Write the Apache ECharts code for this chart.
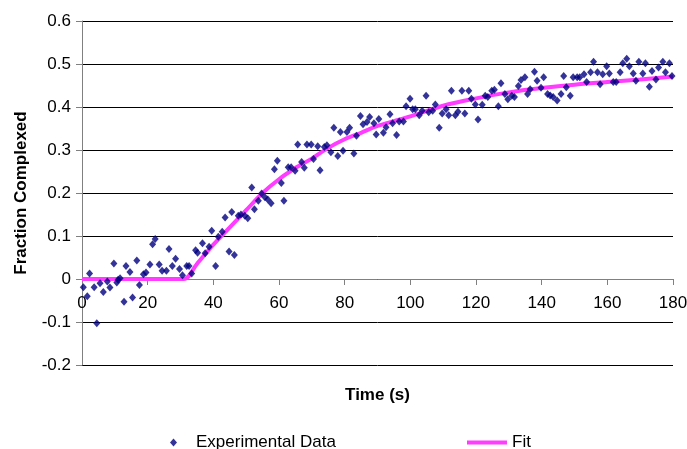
<!DOCTYPE html>
<html>
<head>
<meta charset="utf-8">
<script src="https://cdn.jsdelivr.net/npm/echarts@6/dist/echarts.min.js"></script>
<style>
  html, body { margin: 0; padding: 0; background: #fff; }
  #chart { width: 687px; height: 449px; }
</style>
</head>
<body>
<div id="chart"></div>
<script>
// Measured binding time course (s) and fraction complexed
const expTime = [
  0.4, 1.6, 2.3, 3.7, 4.5, 5.5, 6.5, 7.7, 8.5, 9.7,
  10.6, 11.0, 11.6, 12.8, 13.4, 14.6, 15.4, 16.7, 17.5, 18.7,
  19.5, 20.7, 21.5, 22.3, 23.5, 24.4, 25.7, 26.5, 27.5, 28.5,
  29.7, 30.6, 31.9, 32.6, 33.4, 34.6, 35.2, 36.7, 37.5, 38.7,
  39.5, 40.7, 41.5, 42.7, 43.6, 44.8, 45.6, 46.4, 47.6, 48.4,
  49.6, 50.5, 51.7, 52.5, 53.7, 54.7, 55.7, 56.6, 57.6, 58.6,
  59.5, 60.7, 61.5, 62.8, 63.7, 64.9, 65.7, 66.9, 67.7, 68.5,
  69.8, 70.5, 71.8, 72.5, 73.8, 74.6, 75.8, 76.7, 77.9, 78.7,
  79.5, 80.7, 81.5, 82.8, 83.6, 84.8, 85.6, 86.8, 87.6, 88.9,
  89.6, 90.4, 91.8, 92.6, 93.8, 94.6, 95.8, 96.6, 97.9, 98.7,
  99.9, 100.7, 101.5, 102.7, 103.6, 104.8, 105.6, 106.8, 107.6, 108.8,
  109.7, 110.9, 111.7, 112.5, 113.7, 114.5, 115.7, 116.6, 117.8, 118.6,
  119.8, 120.6, 121.9, 122.8, 123.6, 124.8, 125.6, 126.8, 127.6, 128.8,
  129.7, 130.9, 131.7, 132.9, 133.7, 134.9, 135.7, 136.5, 137.8, 138.6,
  139.8, 140.6, 141.8, 142.6, 143.5, 144.7, 145.9, 146.7, 147.5, 148.7,
  149.6, 150.8, 151.6, 152.9, 153.7, 154.9, 155.8, 157.0, 157.8, 158.6,
  159.8, 160.6, 161.8, 162.7, 163.9, 164.7, 165.9, 166.7, 167.9, 168.7,
  169.6, 170.8, 171.6, 172.8, 173.6, 174.8, 175.6, 176.9, 177.7, 178.9,
  179.7
];
const expValue = [
  -0.019, -0.040, 0.013, -0.019, -0.103, -0.010, -0.030, -0.006, -0.020, 0.036,
  -0.008, -0.002, 0.002, -0.053, 0.030, 0.016, -0.043, 0.043, -0.014, 0.011,
  0.015, 0.034, 0.081, 0.093, 0.034, 0.019, 0.019, 0.070, 0.030, 0.047,
  0.023, 0.009, 0.030, 0.030, 0.013, 0.067, 0.061, 0.083, 0.060, 0.075,
  0.112, 0.030, 0.098, 0.110, 0.143, 0.064, 0.156, 0.056, 0.147, 0.150,
  0.147, 0.141, 0.213, 0.162, 0.182, 0.199, 0.190, 0.185, 0.176, 0.255,
  0.275, 0.223, 0.182, 0.260, 0.260, 0.252, 0.313, 0.272, 0.259, 0.313,
  0.313, 0.279, 0.309, 0.253, 0.307, 0.311, 0.295, 0.352, 0.286, 0.342,
  0.298, 0.342, 0.352, 0.292, 0.333, 0.379, 0.360, 0.365, 0.377, 0.362,
  0.336, 0.372, 0.340, 0.353, 0.383, 0.362, 0.335, 0.366, 0.366, 0.402,
  0.419, 0.395, 0.395, 0.381, 0.391, 0.426, 0.388, 0.391, 0.406, 0.352,
  0.385, 0.395, 0.381, 0.438, 0.381, 0.389, 0.438, 0.385, 0.438, 0.419,
  0.406, 0.371, 0.405, 0.426, 0.423, 0.438, 0.440, 0.402, 0.455, 0.430,
  0.418, 0.426, 0.423, 0.449, 0.463, 0.469, 0.430, 0.441, 0.482, 0.461,
  0.445, 0.469, 0.430, 0.427, 0.423, 0.415, 0.430, 0.472, 0.446, 0.426,
  0.469, 0.469, 0.469, 0.476, 0.458, 0.481, 0.505, 0.481, 0.453, 0.476,
  0.495, 0.478, 0.458, 0.458, 0.481, 0.502, 0.512, 0.495, 0.478, 0.461,
  0.505, 0.478, 0.502, 0.447, 0.484, 0.464, 0.492, 0.505, 0.481, 0.502,
  0.472
];

// Fitted curve: flat until the lag time, then rising toward a plateau
const fitTime = [0, 31, 35, 40, 45, 50, 55, 60, 65, 70, 75, 80, 85, 90, 95, 100, 110, 120, 130, 140, 150, 160, 170, 180];
const fitValue = [0, 0, 0.035, 0.08, 0.12, 0.16, 0.2, 0.232, 0.258, 0.28, 0.305, 0.325, 0.34, 0.356, 0.367, 0.378, 0.403, 0.42, 0.434, 0.444, 0.452, 0.458, 0.464, 0.471];

// Axis ticks
const xTicks = { min: 0, max: 180, step: 20 };
const yTicks = { min: -0.2, max: 0.6, step: 0.1 };

const FONT = '"Liberation Sans", Arial, sans-serif';
const NAVY = '#00007f';
const MAGENTA = '#ff3cff';
const AXIS_GRAY = '#808080';

const GRID = { left: 82, right: 14, top: 21, bottom: 84 };
const PLOT_H = 449 - GRID.top - GRID.bottom;
// The time axis crosses the value axis at zero: lift it from the bottom edge
const zeroLift = -PLOT_H * (0 - yTicks.min) / (yTicks.max - yTicks.min);

const chart = echarts.init(document.getElementById('chart'), null, { renderer: 'canvas' });

chart.setOption({
  animation: false,
  backgroundColor: '#ffffff',
  textStyle: { fontFamily: FONT, color: '#000' },
  grid: Object.assign({ containLabel: false, outerBoundsMode: 'none' }, GRID),
  legend: [
    {
      data: [{ name: 'Experimental Data', icon: 'diamond' }],
      left: 170, top: 434, padding: 0,
      itemWidth: 7, itemHeight: 8,
      textStyle: { fontFamily: FONT, fontSize: 17, color: '#000', padding: [0, 0, 0, 14] }
    },
    {
      data: [{ name: 'Fit', icon: 'rect' }],
      left: 467, top: 434, padding: 0,
      itemWidth: 40, itemHeight: 4,
      textStyle: { fontFamily: FONT, fontSize: 17, color: '#000' }
    }
  ],
  xAxis: {
    type: 'value',
    min: xTicks.min, max: xTicks.max, interval: xTicks.step,
    offset: zeroLift,
    name: 'Time (s)',
    nameLocation: 'middle',
    nameGap: 108,
    nameTextStyle: { fontFamily: FONT, fontSize: 17, fontWeight: 'bold', color: '#000' },
    axisLine: { onZero: false, lineStyle: { color: AXIS_GRAY, width: 1 } },
    axisTick: { show: true, inside: false, length: 6, lineStyle: { color: AXIS_GRAY } },
    axisLabel: { fontFamily: FONT, fontSize: 17, color: '#000', margin: 16 },
    splitLine: { show: false }
  },
  yAxis: {
    type: 'value',
    min: yTicks.min, max: yTicks.max, interval: yTicks.step,
    name: 'Fraction Complexed',
    nameLocation: 'middle',
    nameGap: 52,
    nameTextStyle: { fontFamily: FONT, fontSize: 17, fontWeight: 'bold', color: '#000' },
    axisLine: { show: true, onZero: false, lineStyle: { color: AXIS_GRAY, width: 1 } },
    axisTick: { show: true, inside: false, length: 6, lineStyle: { color: AXIS_GRAY } },
    axisLabel: {
      fontFamily: FONT, fontSize: 17, color: '#000', margin: 11,
      formatter: v => String(+v.toFixed(1))
    },
    splitLine: { show: true, lineStyle: { color: '#000', width: 1 } }
  },
  series: [
    {
      name: 'Fit',
      type: 'line',
      data: fitTime.map((t, i) => [t, fitValue[i]]),
      smooth: 0.3,
      showSymbol: false,
      symbol: 'none',
      lineStyle: { color: MAGENTA, width: 4 },
      itemStyle: { color: MAGENTA },
      z: 2
    },
    {
      name: 'Experimental Data',
      type: 'scatter',
      data: expTime.map((t, i) => [t, expValue[i]]),
      symbol: 'diamond',
      symbolSize: [7, 8],
      itemStyle: { color: NAVY },
      z: 3
    }
  ]
});
</script>
</body>
</html>
